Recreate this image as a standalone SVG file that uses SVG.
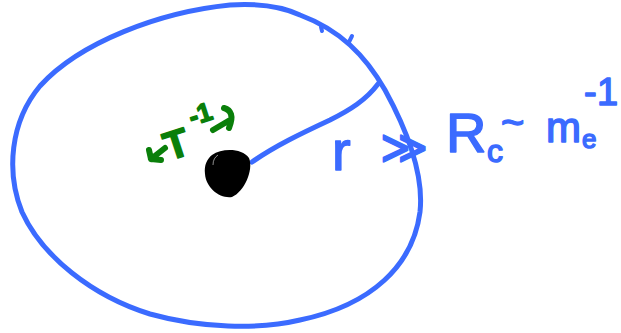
<svg xmlns="http://www.w3.org/2000/svg" width="621" height="333" viewBox="0 0 621 333">
<style>
.blue{fill:none;stroke:#3b6bff;stroke-width:5;stroke-linecap:round;stroke-linejoin:round}
.green{fill:none;stroke:#0a7f0a;stroke-width:6;stroke-linecap:round;stroke-linejoin:round}
.bt{fill:#3b6bff;stroke:#3b6bff;stroke-width:1.5;stroke-linejoin:round;font-family:"Liberation Sans",Arial,sans-serif}
.gt{fill:#0a7f0a;stroke:#0a7f0a;stroke-width:1.5;stroke-linejoin:round;font-family:"Liberation Sans",Arial,sans-serif;font-weight:bold}
</style>
<rect width="621" height="333" fill="#fff"/>
<g id="boundary">
<path class="blue" d="M300,15 C340,30 365,55 385,90 C408,132 424,175 420,212 C413,265 372,305 300,320 C258,330 200,328 150,314 C92,296 42,256 22,212 C6,172 10,122 40,86 C80,42 160,12 230,5 C262,3 285,8 300,15 Z"/>
<path class="blue" d="M321,27 L322,31 M349,42 L352,36" style="stroke-width:4"/>
</g>
<g id="connectors">
<path class="blue" d="M252,162 C275,146 300,134 330,120 C350,110 366,100 378,84"/>
</g>
<g id="center">
<path d="M212,155 C222,148 242,148 249,158 C254,170 244,192 232,197 C220,199 206,188 205,174 C204,165 207,159 212,155 Z" fill="#000"/>
<path d="M213,165 C213,160 215,157 218,155" fill="none" stroke="#fff" stroke-width="0.8" opacity="0.7"/>
</g>
<g id="scale-label">
<path class="green" d="M165,148 L151,159 M149,150 L151,159 L161,160"/>
<path class="green" d="M213,130 L230,120 M224,108 C231,110 234,116 229,128"/>
<text class="gt" font-size="40" transform="translate(169,161) rotate(-18)">T</text>
<text class="gt" font-size="26" transform="translate(192,126) rotate(-18)">-1</text>
</g>
<g id="condition-label">
<text class="bt" font-size="56"><tspan x="332" y="170">r</tspan></text>
<text class="bt" font-size="46"><tspan x="380" y="163">≫</tspan></text>
<text class="bt" font-size="56"><tspan x="446" y="152">R</tspan></text>
<text class="bt" font-size="32"><tspan x="487" y="162">c</tspan></text>
<text class="bt" font-size="40"><tspan x="501" y="136">~</tspan></text>
<text class="bt" font-size="42"><tspan x="546" y="142">m</tspan></text>
<text class="bt" font-size="26"><tspan x="582" y="148">e</tspan></text>
<text class="bt" font-size="38"><tspan x="584" y="105">-</tspan><tspan x="597" y="105">1</tspan></text>
</g>
</svg>
